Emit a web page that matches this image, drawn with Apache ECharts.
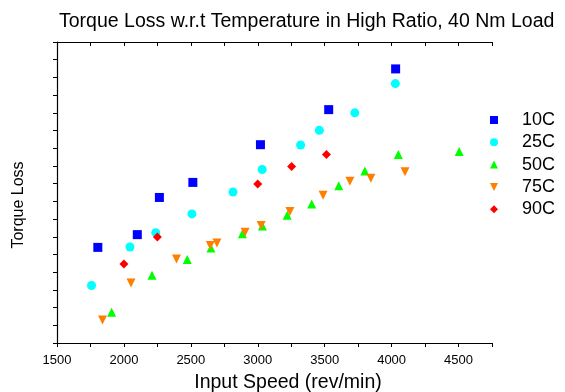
<!DOCTYPE html>
<html>
<head>
<meta charset="utf-8">
<script src="https://cdn.jsdelivr.net/npm/echarts@6/dist/echarts.min.js"></script>
<style>html,body{margin:0;padding:0;background:#fff}#c{width:565px;height:392px}</style>
</head>
<body>
<div id="c"></div>
<script>
var seriesNames = ['10C', '25C', '50C', '75C', '90C'];
var data10 = [[1805, 5.40], [2100, 6.12], [2265, 8.22], [2515, 9.07], [3020, 11.2], [3530, 13.18], [4030, 15.48]];
var data25 = [[1758, 3.25], [2045, 5.42], [2238, 6.23], [2508, 7.29], [2815, 8.53], [3033, 9.80], [3320, 11.18], [3460, 12.01], [3725, 13.0], [4028, 14.65]];
var data50 = [[1908, 1.73], [2210, 3.82], [2473, 4.72], [2650, 5.37], [2885, 6.17], [3035, 6.61], [3220, 7.21], [3403, 7.85], [3605, 8.88], [3800, 9.71], [4050, 10.65], [4505, 10.82]];
var data75 = [[1840, 1.30], [2053, 3.39], [2393, 4.74], [2645, 5.50], [2695, 5.65], [2905, 6.25], [3025, 6.64], [3240, 7.43], [3488, 8.34], [3688, 9.13], [3845, 9.30], [4100, 9.67]];
var data90 = [[2000, 4.46], [2250, 5.99], [3000, 8.98], [3253, 9.97], [3513, 10.65]];
var xTickMin = 1500, xTickMax = 4750, xTickStep = 250, xLabelStep = 500;
var yMin = 0, yMax = 17;
var titleText = 'Torque Loss w.r.t Temperature in High Ratio, 40 Nm Load';
var xName = 'Input Speed (rev/min)';
var yName = 'Torque Loss';

var chart = echarts.init(document.getElementById('c'));
var font = 'Liberation Sans, Arial, sans-serif';
var downTri = 'path://M0,0L10,0L5,10Z';
function mk(name, data, color, symbol, size) {
  return {
    name: name, type: 'scatter', data: data,
    symbol: symbol, symbolSize: size,
    itemStyle: {color: color, opacity: 1},
    xAxisIndex: 0, yAxisIndex: 0
  };
}
chart.setOption({
  animation: false,
  backgroundColor: '#fff',
  title: {
    text: titleText,
    left: 59, top: 12, padding: 0,
    textStyle: {fontFamily: font, fontSize: 19.5, fontWeight: 'normal', color: '#000'}
  },
  legend: {
    orient: 'vertical', left: 490, top: 111, padding: 0,
    itemWidth: 8, itemHeight: 8, itemGap: 4.3,
    textStyle: {fontFamily: font, fontSize: 18, color: '#000', padding: [0, 0, 0, 19]},
    data: [
      {name: '10C', icon: 'rect'},
      {name: '25C', icon: 'circle'},
      {name: '50C', icon: 'triangle'},
      {name: '75C', icon: downTri},
      {name: '90C', icon: 'diamond'}
    ]
  },
  graphic: [
    {type: 'text', x: 288, y: 382.5, style: {text: xName, font: '19.5px ' + font, fill: '#000', textAlign: 'center', textVerticalAlign: 'middle'}},
    {type: 'text', x: 18.5, y: 205, rotation: Math.PI / 2, style: {text: yName, font: '16px ' + font, fill: '#000', textAlign: 'center', textVerticalAlign: 'middle'}}
  ],
  grid: {left: 57, right: 73, top: 42, bottom: 49, containLabel: false},
  xAxis: [{
    type: 'value', min: xTickMin, max: xTickMax, interval: xTickStep,
    position: 'bottom',
    axisLine: {show: true, onZero: false, lineStyle: {color: '#000', width: 1.2}},
    axisTick: {show: true, inside: false, length: 4, lineStyle: {color: '#000', width: 1}},
    axisLabel: {fontFamily: font, fontSize: 13, color: '#000', margin: 11,
      formatter: function (v) { return (v % xLabelStep === 0) ? String(v) : ''; }},
    splitLine: {show: false}
  }, {
    type: 'value', min: xTickMin, max: xTickMax, interval: xTickStep,
    position: 'top',
    axisLine: {show: true, onZero: false, lineStyle: {color: '#000', width: 1.2}},
    axisTick: {show: true, inside: true, length: 4, lineStyle: {color: '#000', width: 1}},
    axisLabel: {show: false},
    splitLine: {show: false}
  }],
  yAxis: [{
    type: 'value', min: yMin, max: yMax, interval: 1,
    axisLine: {show: true, onZero: false, lineStyle: {color: '#000', width: 1.2}},
    axisTick: {show: true, inside: false, length: 4, lineStyle: {color: '#000', width: 1}},
    axisLabel: {show: false},
    splitLine: {show: false}
  }],
  series: [
    mk('10C', data10, '#0000ff', 'rect', 9),
    mk('25C', data25, '#00ffff', 'circle', 9),
    mk('50C', data50, '#00ff00', 'triangle', 9),
    mk('75C', data75, '#ff8000', downTri, 9),
    mk('90C', data90, '#ff0000', 'diamond', 9)
  ]
});
</script>
</body>
</html>
